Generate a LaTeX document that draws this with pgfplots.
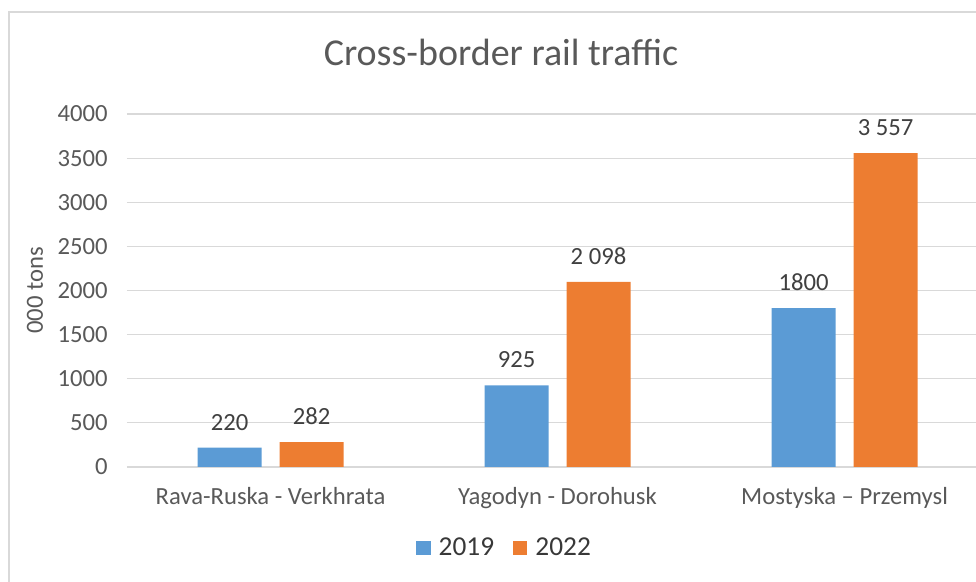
\documentclass[border=0pt]{standalone}
\usepackage{pgfplots}
\pgfplotsset{compat=1.18}
\usepackage{fontspec}
\setmainfont{Carlito}
\definecolor{cblue}{HTML}{5B9BD5}
\definecolor{corange}{HTML}{ED7D31}
\definecolor{tgray}{HTML}{595959}
\definecolor{dgray}{HTML}{404040}
\definecolor{ggray}{HTML}{D9D9D9}
\begin{document}
\begin{tikzpicture}
\useasboundingbox (0,0) rectangle (732pt,436.5pt);
\draw[color=ggray, line width=1.2pt] (6.75pt,-10pt) rectangle (750pt,427.5pt);
\begin{axis}[
  at={(95.25pt,86.25pt)}, anchor=south west,
  scale only axis, width=636.75pt, height=264.75pt,
  xmin=-0.5, xmax=2.458, ymin=0, ymax=4000,
  ybar, bar width=48pt,
  xtick={0,1,2},
  xticklabels={Rava-Ruska - Verkhrata, Yagodyn - Dorohusk, Mostyska – Przemysl},
  ytick={0,500,...,4000},
  ymajorgrids, grid style={ggray, line width=0.9pt},
  axis line style={draw=none},
  major tick length=0pt,
  /pgf/number format/assume math mode=true,
  /pgf/number format/1000 sep={},
  tick label style={font=\fontsize{18.5}{20}\selectfont, text=tgray},
  yticklabel style={xshift=-11pt},
  xticklabel style={yshift=-12pt},
  ylabel={000 tons},
  ylabel style={at={(axis description cs:-0.1084,0.5)}, anchor=center, font=\fontsize{18.5}{20}\selectfont, text=tgray},
  title={Cross-border rail traffic},
  title style={at={(axis description cs:0.4405,1.153)}, anchor=center, font=\fontsize{28.5}{30}\selectfont, text=tgray},
  legend columns=2,
  legend style={at={(axis description cs:0.445,-0.229)}, anchor=center, draw=none, fill=none,
    font=\fontsize{20.5}{22}\selectfont, text=black!78,
    /tikz/every odd column/.append style={column sep=4pt},
    /tikz/every even column/.append style={column sep=12pt}},
  legend image code/.code={\fill[#1, draw=none] (0pt,-5.5pt) rectangle (11pt,5.5pt);},
  nodes near coords,
  point meta=explicit symbolic,
  every node near coord/.append style={anchor=south, inner sep=0pt, yshift=12.75pt,
    font=\fontsize{18.5}{20}\selectfont, text=dgray},
]
\addplot[fill=cblue, draw=none, bar shift=-30.75pt] coordinates {(0,220)[220] (1,925)[925] (2,1800)[1800]};
\addplot[fill=corange, draw=none, bar shift=30.75pt] coordinates {(0,282)[282] (1,2098)[2 098] (2,3557)[3 557]};
\legend{2019,2022}
\end{axis}
\end{tikzpicture}
\end{document}
